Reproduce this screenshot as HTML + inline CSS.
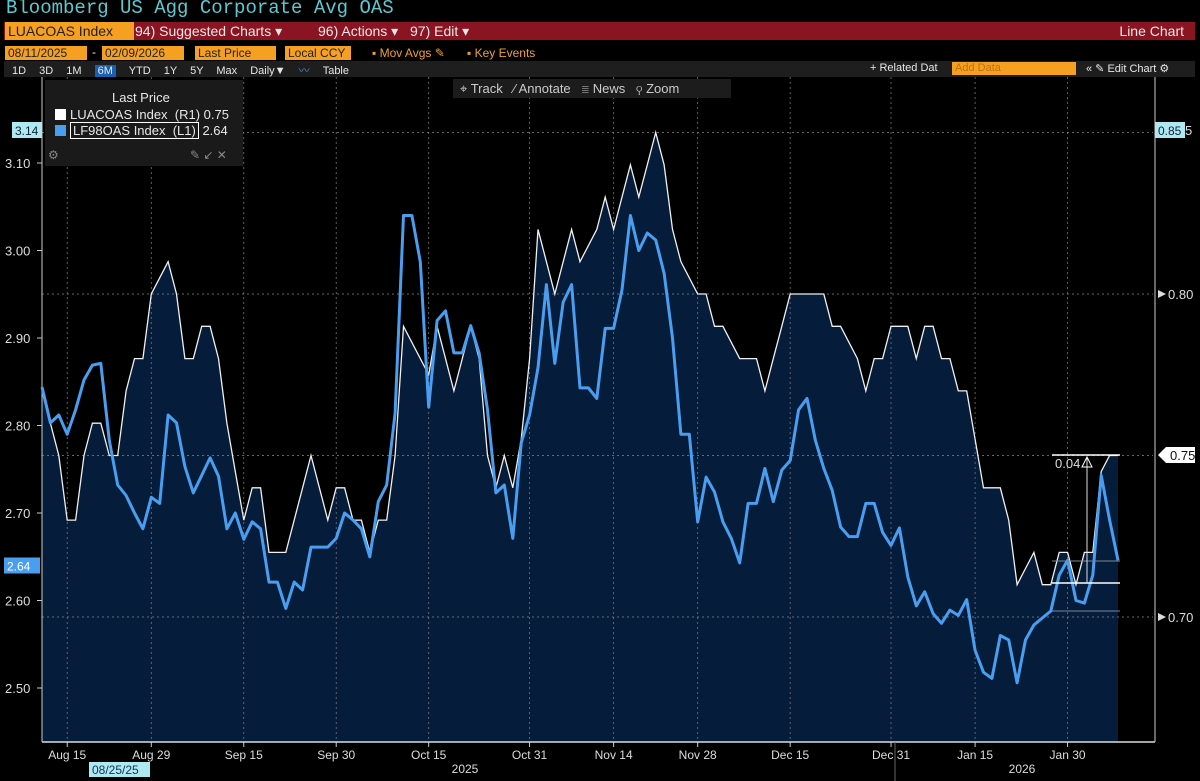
<!DOCTYPE html>
<html><head><meta charset="utf-8">
<style>
body{margin:0;background:#000;width:1200px;height:781px;overflow:hidden;font-family:"Liberation Sans",sans-serif;position:relative}
.abs{position:absolute}
.t{color:#e8e8e8;font-size:12px;white-space:nowrap}
.org{background:#f5a020;color:#222;font-size:12px;height:14px;line-height:14px;padding:0 3px}
</style></head><body>
<div class="abs" style="left:6px;top:-3px;color:#5ec8d0;font-family:'Liberation Mono',monospace;font-size:19px;">Bloomberg US Agg Corporate Avg OAS</div>
<div class="abs" style="left:4px;top:22px;width:1191px;height:18px;background:#8a1422"></div>
<div class="abs org" style="left:5px;top:22px;width:123px;height:18px;line-height:18px;font-size:14px">LUACOAS Index</div>
<div class="abs t" style="left:135px;top:23px;font-size:14px">94) Suggested Charts ▾</div>
<div class="abs t" style="left:318px;top:23px;font-size:14px">96) Actions ▾</div>
<div class="abs t" style="left:410px;top:23px;font-size:14px">97) Edit ▾</div>
<div class="abs t" style="right:16px;top:23px;font-size:14px">Line Chart</div>
<div class="abs org" style="left:5px;top:46px;width:76px">08/11/2025</div>
<div class="abs org" style="left:102px;top:46px;width:76px">02/09/2026</div>
<div class="abs t" style="left:92px;top:45px">-</div>
<div class="abs org" style="left:195px;top:46px;width:75px">Last Price</div>
<div class="abs org" style="left:285px;top:46px;width:60px">Local CCY</div>
<div class="abs" style="left:372px;top:46px;color:#f0a030;font-size:12px">▪ Mov Avgs ✎</div>
<div class="abs" style="left:467px;top:46px;color:#f0a030;font-size:12px">▪ Key Events</div>
<div class="abs" style="left:4px;top:61px;width:1191px;height:16px;background:#1e1e1e"></div>
<div class="abs t" style="left:12px;top:62px;font-size:11px;word-spacing:10px">1D 3D 1M <span style="background:#1a5fb0;padding:0 3px">6M</span> YTD 1Y 5Y Max Daily▼ <span style="color:#4a90e0">〰</span> Table</div>
<div class="abs t" style="left:870px;top:62px;font-size:11px">+ Related Dat</div>
<div class="abs org" style="left:952px;top:62px;width:118px;height:13px;line-height:13px;color:#c07010;font-size:11px">Add Data</div>
<div class="abs t" style="left:1086px;top:62px;font-size:11px">« ✎ Edit Chart ⚙</div>
<svg class="abs" style="left:0;top:0" width="1200" height="781" id="chart"></svg>
<div class="abs" style="left:453px;top:79px;width:278px;height:19px;background:#1c1c1c"></div>
<div class="abs t" style="left:460px;top:81px;font-size:13px;color:#ccc">⌖ Track &nbsp; ⁄ Annotate &nbsp; ≣ News &nbsp; ⚲ Zoom</div>
<div class="abs" style="left:45px;top:80px;width:198px;height:86px;background:#1a1a1a">
<div class="abs t" style="left:67px;top:10px;font-size:13px">Last Price</div>
<div class="abs" style="left:10px;top:29px;width:11px;height:11px;background:#fff"></div>
<div class="abs t" style="left:25px;top:27px;font-size:13px">LUACOAS Index &nbsp;(R1) 0.75</div>
<div class="abs" style="left:10px;top:45px;width:11px;height:11px;background:#4a9ef0"></div>
<div class="abs t" style="left:25px;top:43px;font-size:13px"><span style="border:1px solid #fff;padding:0 2px">LF98OAS Index &nbsp;(L1)</span> 2.64</div>
<div class="abs t" style="left:3px;top:68px;color:#888">⚙</div>
<div class="abs t" style="left:145px;top:68px;color:#888">✎ ↙ ✕</div>
</div>
<script>
const whiteVals=[0.77,0.76,0.75,0.73,0.73,0.75,0.76,0.76,0.75,0.75,0.77,0.78,0.78,0.80,0.805,0.81,0.80,0.78,0.78,0.79,0.79,0.78,0.76,0.745,0.73,0.74,0.74,0.72,0.72,0.72,0.73,0.74,0.75,0.74,0.73,0.74,0.74,0.73,0.73,0.72,0.73,0.73,0.75,0.79,0.785,0.78,0.775,0.79,0.78,0.77,0.78,0.79,0.78,0.75,0.74,0.75,0.74,0.755,0.78,0.82,0.81,0.80,0.81,0.82,0.81,0.815,0.82,0.83,0.82,0.83,0.84,0.83,0.84,0.85,0.84,0.82,0.81,0.805,0.80,0.80,0.79,0.79,0.785,0.78,0.78,0.78,0.77,0.78,0.79,0.80,0.80,0.80,0.80,0.80,0.79,0.79,0.785,0.78,0.77,0.78,0.78,0.79,0.79,0.79,0.78,0.79,0.79,0.78,0.78,0.77,0.77,0.755,0.74,0.74,0.74,0.73,0.71,0.715,0.72,0.71,0.71,0.72,0.72,0.71,0.72,0.72,0.745,0.75,0.75];
const blueVals=[2.844,2.803,2.812,2.79,2.818,2.852,2.869,2.871,2.783,2.732,2.72,2.70,2.682,2.718,2.711,2.812,2.803,2.753,2.723,2.743,2.763,2.742,2.682,2.70,2.67,2.69,2.682,2.621,2.621,2.591,2.621,2.612,2.661,2.661,2.661,2.671,2.70,2.692,2.682,2.65,2.713,2.732,2.814,3.04,3.04,2.987,2.821,2.92,2.931,2.883,2.883,2.914,2.883,2.818,2.723,2.732,2.671,2.78,2.812,2.866,2.961,2.871,2.941,2.961,2.843,2.843,2.831,2.911,2.911,2.955,3.04,3.00,3.02,3.012,2.974,2.90,2.79,2.79,2.69,2.741,2.724,2.69,2.671,2.643,2.711,2.711,2.751,2.713,2.749,2.76,2.818,2.831,2.783,2.751,2.726,2.684,2.673,2.673,2.711,2.711,2.678,2.663,2.683,2.627,2.594,2.61,2.585,2.574,2.589,2.583,2.601,2.543,2.518,2.511,2.56,2.555,2.506,2.555,2.572,2.58,2.588,2.629,2.646,2.60,2.597,2.629,2.743,2.692,2.646];
const leftTicks=[3.10,3.00,2.90,2.80,2.70,2.60,2.50];
const rightTicks=[0.80,0.75,0.70];
const dateLabels=["Aug 15","Aug 29","Sep 15","Sep 30","Oct 15","Oct 31","Nov 14","Nov 28","Dec 15","Dec 31","Jan 15","Jan 30"];
const dateIdx=[3,13,24,35,46,58,68,78,89,101,111,122];

const svg=document.getElementById('chart');const NS='http://www.w3.org/2000/svg';
const X0=42,X1=1118,PB=742;
const n=whiteVals.length;
const xs=i=>X0+(X1-X0)*i/(n-1);
const yL=v=>163+(3.10-v)*875;
const yR=v=>617-(v-0.70)*3230;
function mk(tag,attrs,parent){const e=document.createElementNS(NS,tag);for(const k in attrs)e.setAttribute(k,attrs[k]);(parent||svg).appendChild(e);return e;}
// fill area
let d='M'+xs(0)+','+PB;whiteVals.forEach((v,i)=>d+=' L'+xs(i).toFixed(1)+','+yR(v).toFixed(1));d+=' L'+xs(n-1)+','+PB+'Z';
const area=mk('path',{d:d,fill:'#051c3a'});


// grid
dateIdx.forEach((di,k)=>{const x=X0+(X1-X0)*di/(n-1)+ (k===0?0:0);
 const g=mk('line',{x1:x,x2:x,y1:77,y2:PB,stroke:'#777','stroke-dasharray':'2,3','stroke-width':0.8});
 
 
 const tk=mk('line',{x1:x,x2:x,y1:PB,y2:PB+5,stroke:'#ccc'});
 const t=mk('text',{x:x,y:PB+17,fill:'#ddd','font-size':12,'text-anchor':'middle','font-family':'Liberation Sans'});t.textContent=dateLabels[k];
 
 });
[0.85].concat(rightTicks).forEach(v=>{const g=mk('line',{x1:X0,x2:1153,y1:yR(v),y2:yR(v),stroke:'#888','stroke-dasharray':'2,3','stroke-width':0.8});
 
 });
// axes
mk('line',{x1:X0,x2:1155,y1:PB,y2:PB,stroke:'#ddd','stroke-width':1.5});
mk('line',{x1:X0,x2:X0,y1:77,y2:PB,stroke:'#ccc'});
mk('line',{x1:1155,x2:1155,y1:77,y2:PB,stroke:'#ccc'});
leftTicks.forEach(v=>{const t=mk('text',{x:5,y:yL(v)+5,fill:'#ddd','font-size':13,'font-family':'Liberation Sans'});t.textContent=v.toFixed(2);
 
 
 mk('line',{x1:37,x2:X0,y1:yL(v),y2:yL(v),stroke:'#ccc'});});
rightTicks.forEach(v=>{if(v===0.75)return;const t=mk('text',{x:1168,y:yR(v)+5,fill:'#ddd','font-size':13,'font-family':'Liberation Sans'});t.textContent=v.toFixed(2);
 
 
 mk('path',{d:`M1158,${yR(v)-4} L1166,${yR(v)} L1158,${yR(v)+4}Z`,fill:'#ddd'});});
// lines
const wl=mk('polyline',{points:whiteVals.map((v,i)=>xs(i).toFixed(1)+','+yR(v).toFixed(1)).join(' '),fill:'none',stroke:'#f0f0f0','stroke-width':1.3});


const bl=mk('polyline',{points:blueVals.map((v,i)=>xs(i).toFixed(1)+','+yL(v).toFixed(1)).join(' '),fill:'none',stroke:'#4a9ef0','stroke-width':3,'stroke-linejoin':'round'});


// annotation
mk('line',{x1:1052,x2:1120,y1:455,y2:455,stroke:'#fff','stroke-width':1.5});
mk('line',{x1:1052,x2:1120,y1:583,y2:583,stroke:'#fff','stroke-width':1.5});
mk('line',{x1:1052,x2:1120,y1:561,y2:561,stroke:'#789','stroke-width':1});
mk('line',{x1:1052,x2:1120,y1:611,y2:611,stroke:'#789','stroke-width':1});
mk('line',{x1:1087,x2:1087,y1:458,y2:583,stroke:'#ddd'});
mk('path',{d:'M1082,467 L1087,457 L1092,467Z',fill:'none',stroke:'#fff'});
const an=mk('text',{x:1055,y:468,fill:'#ddd','font-size':13,'font-family':'Liberation Sans'});an.textContent='0.04';


// value tags
function tag(x,y,w,txt,bg,fg,name){mk('rect',{x:x,y:y-8,width:w,height:16,fill:bg});const t=mk('text',{x:x+3,y:y+5,fill:fg,'font-size':12,'font-family':'Liberation Sans'});t.textContent=txt;
 
 }
tag(12,130,30,'3.14','#aee8f0','#123','left-max-tag');
tag(1155,130,30,'0.85','#aee8f0','#123','right-max-tag');
tag(4,yL(2.64),36,'2.64','#4a9ef0','#fff','left-last-tag');
mk('path',{d:`M1158,455 L1166,447 L1195,447 L1195,463 L1166,463Z`,fill:'#fff'});
const lt=mk('text',{x:1170,y:460,fill:'#111','font-size':13,'font-family':'Liberation Sans'});lt.textContent='0.75';


const r5=mk('text',{x:1185,y:135,fill:'#ddd','font-size':13});r5.textContent='5';
// year labels
mk('line',{x1:895,x2:895,y1:PB,y2:781,stroke:'#666'});
const y1=mk('text',{x:465,y:773,fill:'#ddd','font-size':12,'text-anchor':'middle','font-family':'Liberation Sans'});y1.textContent='2025';


const y2=mk('text',{x:1022,y:773,fill:'#ddd','font-size':12,'text-anchor':'middle','font-family':'Liberation Sans'});y2.textContent='2026';


mk('rect',{x:89,y:762,width:61,height:15,fill:'#aee8f0'});
const dt=mk('text',{x:92,y:774,fill:'#135','font-size':12,'font-family':'Liberation Sans'});dt.textContent='08/25/25';


</script>
</body></html>
